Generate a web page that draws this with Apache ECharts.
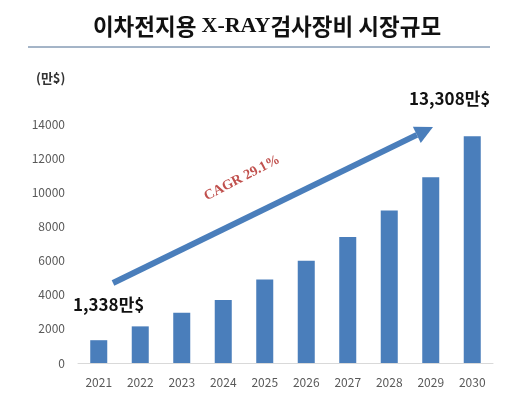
<!DOCTYPE html>
<html><head><meta charset="utf-8">
<script src="https://cdn.jsdelivr.net/npm/echarts@6/dist/echarts.min.js"></script>
<style>html,body{margin:0;padding:0;background:#fff}#c{width:524px;height:407px}</style>
</head><body><div id="c"></div>
<script>
const categories = ['2021','2022','2023','2024','2025','2026','2027','2028','2029','2030'];
const marketSize = [1338, 2150, 2950, 3700, 4900, 6000, 7400, 8950, 10900, 13308];
const yTicks = [0, 2000, 4000, 6000, 8000, 10000, 12000, 14000];
const titleText = '이차전지용 X-RAY검사장비 시장규모';
const unitText = '(만$)';
const startLabel = '1,338만$';
const endLabel = '13,308만$';
const cagrText = 'CAGR 29.1%';

const chart = echarts.init(document.getElementById('c'));
const kr = '"Noto Sans CJK KR", "Noto Sans", sans-serif';
const blue = '#4a7ebb';
const ang = Math.atan2(283-127, 433-113);
const tipX = 433, tipY = 127, sx = 113, sy = 283;
const hl = 18, hw = 9;
const bx = tipX - hl*Math.cos(ang), by = tipY + hl*Math.sin(ang);
const px = hw*Math.sin(ang), py = hw*Math.cos(ang);

chart.setOption({
  animation: false,
  grid: {left: 78, right: 31, top: 124.5, bottom: 44},
  xAxis: {
    type: 'category', data: categories,
    axisLine: {lineStyle: {color: '#d9d9d9'}},
    axisTick: {show: false},
    axisLabel: {color: '#595959', fontSize: 12, margin: 13, fontFamily: kr}
  },
  yAxis: {
    type: 'value', min: yTicks[0], max: yTicks[yTicks.length-1], interval: 2000,
    splitLine: {show: false},
    axisLine: {show: false}, axisTick: {show: false},
    axisLabel: {color: '#595959', fontSize: 12, margin: 13, fontFamily: kr, formatter: v => String(v)}
  },
  series: [{
    type: 'bar', data: marketSize, barWidth: '41%',
    itemStyle: {color: blue}
  }],
  graphic: [
    {type: 'text', x: 267, y: 15, style: {
      text: '{k|이차전지용 }{s|X-RAY}{k|검사장비 시장규모}', align: 'center',
      rich: {
        k: {fontFamily: kr, fontWeight: 'bold', fontSize: 22.5, fill: '#111'},
        s: {fontFamily: '"Liberation Serif", serif', fontWeight: 'bold', fontSize: 22, fill: '#111'}
      }
    }},
    {type: 'line', shape: {x1: 28, y1: 47, x2: 490, y2: 47}, style: {stroke: '#4a6a90', lineWidth: 1}},
    {type: 'text', x: 36, y: 72, style: {text: unitText, fontFamily: kr, fontSize: 13, fontWeight: 'bold', fill: '#333'}},
    {type: 'text', x: 409, y: 90, style: {text: endLabel, fontFamily: kr, fontSize: 17, fontWeight: 'bold', fill: '#111'}},
    {type: 'text', x: 73, y: 296, style: {text: startLabel, fontFamily: kr, fontSize: 17, fontWeight: 'bold', fill: '#111'}},
    {type: 'line', shape: {x1: sx, y1: sy, x2: bx, y2: by}, style: {stroke: blue, lineWidth: 6}},
    {type: 'polygon', shape: {points: [[tipX, tipY], [bx - px, by - py], [bx + px, by + py]]}, style: {fill: blue}},
    {type: 'text', x: 242, y: 178, rotation: 0.48, style: {
      text: cagrText, fontFamily: '"Liberation Serif", serif', fontWeight: 'bold', fontSize: 14,
      fill: '#c0504d', align: 'center', verticalAlign: 'middle'
    }}
  ]
});
</script></body></html>
